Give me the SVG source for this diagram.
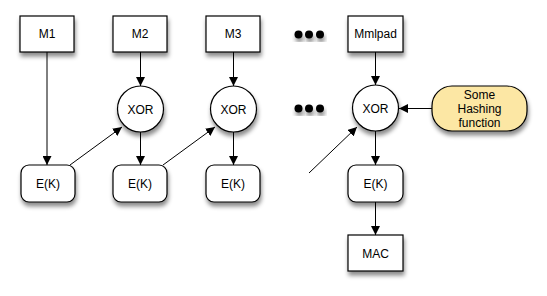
<svg xmlns="http://www.w3.org/2000/svg" width="547" height="296" viewBox="0 0 547 296">
  <defs>
    <filter id="shadow" x="-30%" y="-30%" width="160%" height="170%">
      <feDropShadow dx="1" dy="4" stdDeviation="2.2" flood-color="#000" flood-opacity="0.45"/>
    </filter>
    <marker id="arrow" viewBox="0 0 10 10" refX="10" refY="5" markerWidth="9" markerHeight="9" markerUnits="userSpaceOnUse" orient="auto">
      <path d="M0,0 L10,5 L0,10 Z" fill="#000"/>
    </marker>
  </defs>
  <style>
    .box { fill: #fff; stroke: #000; stroke-width: 1.2; filter: url(#shadow); }
    .hash { fill: #fce7a4; stroke: #000; stroke-width: 1.2; filter: url(#shadow); }
    .dot { fill: #000; filter: url(#shadow); }
    .label { font-family: "Liberation Sans", Arial, sans-serif; font-size: 12px; fill: #000; text-anchor: middle; }
    .edge { stroke: #000; stroke-width: 1; fill: none; marker-end: url(#arrow); }
    .plain { stroke: #000; stroke-width: 1; fill: none; }
  </style>
  <rect width="547" height="296" fill="#fff"/>

  <!-- connectors -->
  <g id="connectors">
    <line class="edge" x1="47" y1="52" x2="47" y2="165"/>
    <line class="edge" x1="140.5" y1="52" x2="140.5" y2="86"/>
    <line class="edge" x1="233.5" y1="52" x2="233.5" y2="86"/>
    <line class="edge" x1="375.5" y1="52" x2="375.5" y2="85"/>
    <line class="edge" x1="140.5" y1="132" x2="140.5" y2="165"/>
    <line class="edge" x1="233.5" y1="132" x2="233.5" y2="165"/>
    <line class="edge" x1="375.5" y1="131" x2="375.5" y2="165"/>
    <line class="edge" x1="375.5" y1="202" x2="375.5" y2="235"/>
    <line class="edge" x1="70" y1="165" x2="122" y2="127"/>
    <line class="edge" x1="163" y1="165" x2="215" y2="127"/>
    <line class="edge" x1="309" y1="173" x2="357" y2="127"/>
    <line class="edge" x1="432" y1="108.5" x2="399" y2="108.5"/>
  </g>

  <!-- message blocks -->
  <g id="m1"><rect class="box" x="20" y="16" width="54" height="36"/><text class="label" x="47" y="38">M1</text></g>
  <g id="m2"><rect class="box" x="113" y="16" width="54" height="36"/><text class="label" x="140" y="38">M2</text></g>
  <g id="m3"><rect class="box" x="206" y="16" width="54" height="36"/><text class="label" x="233" y="38">M3</text></g>
  <g id="mmlpad"><rect class="box" x="348" y="16" width="55" height="36"/><text class="label" x="375.5" y="38">Mmlpad</text></g>

  <!-- ellipsis dots -->
  <g id="dots-top">
    <circle class="dot" cx="298.5" cy="34.5" r="4"/>
    <circle class="dot" cx="309" cy="34.5" r="4"/>
    <circle class="dot" cx="320" cy="34.5" r="4"/>
  </g>
  <g id="dots-mid">
    <circle class="dot" cx="298.5" cy="108.5" r="4"/>
    <circle class="dot" cx="309" cy="108.5" r="4"/>
    <circle class="dot" cx="320" cy="108.5" r="4"/>
  </g>

  <!-- XOR nodes -->
  <g id="xor2"><circle class="box" cx="140.5" cy="109" r="23"/><text class="label" x="140.5" y="113.5">XOR</text></g>
  <g id="xor3"><circle class="box" cx="233.5" cy="109" r="23"/><text class="label" x="233.5" y="113.5">XOR</text></g>
  <g id="xor4"><circle class="box" cx="375.5" cy="108" r="23"/><text class="label" x="375.5" y="112.5">XOR</text></g>

  <!-- hashing function -->
  <g id="hashing">
    <rect class="hash" x="432" y="86" width="95" height="45" rx="20" ry="20"/>
    <text class="label" x="479.5" y="99">Some</text>
    <text class="label" x="479.5" y="113">Hashing</text>
    <text class="label" x="479.5" y="126.5">function</text>
  </g>

  <!-- encryption blocks -->
  <g id="ek1"><rect class="box" x="21" y="165" width="54" height="37" rx="8" ry="8"/><text class="label" x="48" y="188">E(K)</text></g>
  <g id="ek2"><rect class="box" x="113" y="165" width="54" height="37" rx="8" ry="8"/><text class="label" x="140" y="188">E(K)</text></g>
  <g id="ek3"><rect class="box" x="206" y="165" width="54" height="37" rx="8" ry="8"/><text class="label" x="233" y="188">E(K)</text></g>
  <g id="ek4"><rect class="box" x="348" y="165" width="55" height="37" rx="8" ry="8"/><text class="label" x="375.5" y="188">E(K)</text></g>

  <!-- output -->
  <g id="mac"><rect class="box" x="348" y="235" width="55" height="36"/><text class="label" x="375.5" y="257.5">MAC</text></g>
</svg>
